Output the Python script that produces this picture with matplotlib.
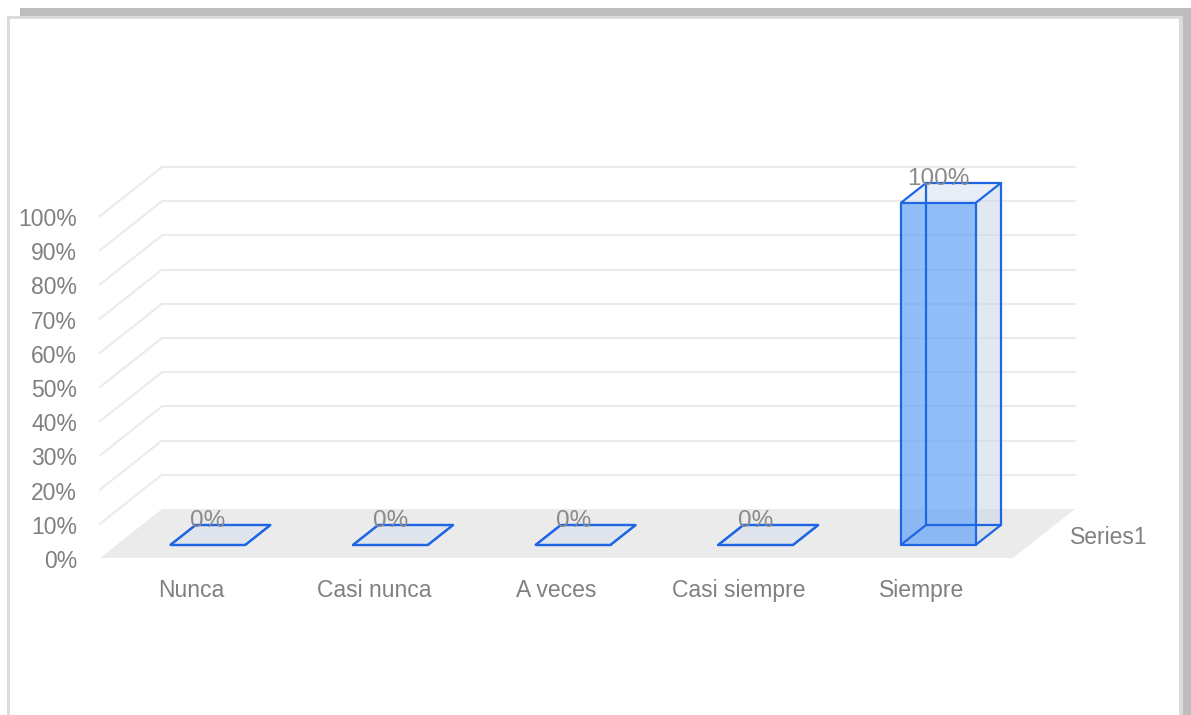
import matplotlib

matplotlib.use("Agg")
import matplotlib.pyplot as plt
from matplotlib.patches import Polygon, Rectangle

categories = ["Nunca", "Casi nunca", "A veces", "Casi siempre", "Siempre"]
values = [0, 0, 0, 0, 100]          # percent of answers
series_name = "Series1"
yticks = list(range(0, 101, 10))
ytick_labels = [f"{t}%" for t in yticks]

W_PX, H_PX = 1191, 715
fig = plt.figure(figsize=(W_PX / 100, H_PX / 100), dpi=100)
fig.patch.set_facecolor("white")

# front plane of the "3D" chart: x = category index, y = percent
ax = fig.add_axes([100 / W_PX, (H_PX - 558) / H_PX, 913 / W_PX, 342 / H_PX])
ax.set_xlim(-0.5, len(categories) - 0.5)
ax.set_ylim(0, 100)
ax.axis("off")

# oblique depth offset (in data units) of the back wall
DX, DY = 0.3395, 14.33
D0, D1 = 0.27, 0.67     # depth span of the bars
BAR_W = 0.41

TEXT = "#808080"
GRID = "#ebebeb"
EDGE = "#1f66e5"
FONT = "Liberation Sans"


def P(x, y, d):
    return (x + d * DX, y + d * DY)


x0, x1 = -0.5, len(categories) - 0.5

# floor
ax.add_patch(Polygon([P(x0, 0, 0), P(x1, 0, 0), P(x1, 0, 1), P(x0, 0, 1)],
                     closed=True, facecolor="#ebebeb", edgecolor="none",
                     zorder=1, clip_on=False))

# back wall + side wall gridlines
for t in yticks[1:]:
    bx0, by = P(x0, t, 1)
    bx1, _ = P(x1, t, 1)
    ax.plot([bx0, bx1], [by, by], color=GRID, lw=1.5, zorder=1, clip_on=False)
    fx, fy = P(x0, t, 0)
    ax.plot([fx, bx0], [fy, by], color=GRID, lw=1.5, zorder=1, clip_on=False)

# bars drawn as see-through boxes
for i, v in enumerate(values):
    l, r = i - BAR_W / 2, i + BAR_W / 2
    front = [P(l, 0, D0), P(r, 0, D0), P(r, v, D0), P(l, v, D0)]
    side = [P(r, 0, D0), P(r, 0, D1), P(r, v, D1), P(r, v, D0)]
    top = [P(l, v, D0), P(r, v, D0), P(r, v, D1), P(l, v, D1)]
    ax.add_patch(Polygon(side, closed=True, facecolor="#c9d6e8", alpha=0.55,
                         edgecolor="none", zorder=3, clip_on=False))
    ax.add_patch(Polygon(top, closed=True, facecolor="#d9e2f0", alpha=0.6,
                         edgecolor="none", zorder=3, clip_on=False))
    ax.add_patch(Polygon(front, closed=True, facecolor="#62a2f7", alpha=0.7,
                         edgecolor="none", zorder=4, clip_on=False))
    # all twelve edges
    corners = {(a, b, c): P(xx, yy, dd)
               for a, xx in enumerate((l, r))
               for b, yy in enumerate((0, v))
               for c, dd in enumerate((D0, D1))}
    for (a, b, c), p in corners.items():
        for q in ((a + 1, b, c), (a, b + 1, c), (a, b, c + 1)):
            if q in corners:
                p2 = corners[q]
                ax.plot([p[0], p2[0]], [p[1], p2[1]], color=EDGE, lw=1.6,
                        solid_capstyle="round", zorder=5, clip_on=False)
    # value label above the bar
    lx, _ = P(i, v, D0)
    _, ly = P(i, v, D1)
    ax.annotate(f"{v}%", (lx, ly), xytext=(0, -1.5), textcoords="offset pixels",
                ha="center", va="baseline", fontsize=17.5, color="#8a8a8a",
                family=FONT, zorder=6, annotation_clip=False)

# value axis labels
for t, lab in zip(yticks, ytick_labels):
    ax.annotate(lab, (x0, t), xytext=(-23, -10), textcoords="offset pixels",
                ha="right", va="baseline", fontsize=16.5, color=TEXT,
                family=FONT, annotation_clip=False)

# category labels
for i, c in enumerate(categories):
    ax.annotate(c, (i, 0), xytext=(0, -39), textcoords="offset pixels",
                ha="center", va="baseline", fontsize=16.5, color=TEXT,
                family=FONT, annotation_clip=False)

# depth (series) axis label
sx, sy = P(x1, 0, 0.48)
ax.annotate(series_name, (sx, sy), xytext=(27, -9.5), textcoords="offset pixels",
            ha="left", va="baseline", fontsize=16.5, color=TEXT,
            family=FONT, annotation_clip=False)


# window frame around the chart
def frame_rect(x, y, w, h, color):
    fig.add_artist(Rectangle((x / W_PX, 1 - (y + h) / H_PX), w / W_PX, h / H_PX,
                             transform=fig.transFigure, facecolor=color,
                             edgecolor="none", zorder=0))


frame_rect(20, 8, W_PX - 20, 8, "#bdbdbd")
frame_rect(1183, 8, 8, H_PX - 8, "#bdbdbd")
frame_rect(7, 16, 1176, 3, "#dcdcdc")
frame_rect(7, 16, 3, H_PX - 16, "#dcdcdc")
frame_rect(1179, 16, 4, H_PX - 16, "#dcdcdc")

fig.savefig("out.png", dpi=100, facecolor="white")
